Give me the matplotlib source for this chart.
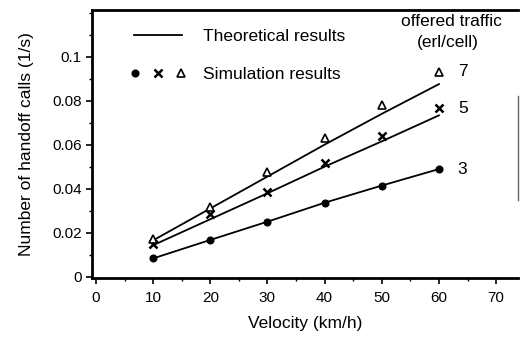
import matplotlib
matplotlib.use('Agg')
import matplotlib.pyplot as plt
from matplotlib.lines import Line2D
from matplotlib.legend_handler import HandlerTuple
from matplotlib.ticker import MultipleLocator

# data dibaca langsung dari gambar (perkiraan)
kecepatan = [10, 20, 30, 40, 50, 60]

# hasil simulasi tiap offered traffic (erl/cell)
sim_3 = [0.0083, 0.0167, 0.0250, 0.0336, 0.0414, 0.0489]
sim_5 = [0.0150, 0.0285, 0.0387, 0.0517, 0.0640, 0.0765]
sim_7 = [0.0172, 0.0318, 0.0477, 0.0632, 0.0780, 0.0932]

# hasil teori (garis)
teori_3 = [0.0083, 0.0167, 0.0250, 0.0336, 0.0414, 0.0489]
teori_5 = [0.0143, 0.0261, 0.0379, 0.0500, 0.0615, 0.0733]
teori_7 = [0.0165, 0.0310, 0.0455, 0.0600, 0.0740, 0.0875]

label_trafik = ['3', '5', '7']

xtick_pos = [0, 10, 20, 30, 40, 50, 60, 70]
ytick_pos = [0, 0.02, 0.04, 0.06, 0.08, 0.1]
ytick_label = ['0', '0.02', '0.04', '0.06', '0.08', '0.1']

plt.rcParams['font.family'] = ['Liberation Sans', 'DejaVu Sans']

UKURAN_FONT = 12.5


def gambar_grafik():
    fig = plt.figure(figsize=(5.21, 3.38), dpi=100)
    ax = fig.add_axes([0.177, 0.1775, 0.818, 0.793])

    # style marker buat tiap seri
    gaya_marker = [
        dict(marker='o', ms=4.8, mfc='k', mec='k'),
        dict(marker='x', ms=5.5, mew=1.8, mec='k'),
        dict(marker='^', ms=5.5, mew=1.2, mfc='white', mec='k'),
    ]
    semua_sim = [sim_3, sim_5, sim_7]
    semua_teori = [teori_3, teori_5, teori_7]

    for teori, sim, gaya, lbl in zip(semua_teori, semua_sim, gaya_marker, label_trafik):
        ax.plot(kecepatan, teori, color='k', lw=1.3, zorder=2)
        ax.plot(kecepatan, sim, ls='none', zorder=3, **gaya)
        # angka offered traffic di kanan
        ax.text(kecepatan[-1] + 3.3, sim[-1], lbl, fontsize=UKURAN_FONT,
                va='center', ha='left')

    ax.text(62.2, 0.1159, 'offered traffic', fontsize=UKURAN_FONT, ha='center', va='center')
    ax.text(61.5, 0.1064, '(erl/cell)', fontsize=UKURAN_FONT, ha='center', va='center')

    # legend manual pake handle tuple
    h_garis = Line2D([], [], color='k', lw=1.3)
    h_marker = tuple(Line2D([], [], ls='none', **g) for g in gaya_marker)
    ax.legend([h_garis, h_marker], ['Theoretical results', 'Simulation results'],
              handler_map={tuple: HandlerTuple(ndivide=None, pad=1.23)},
              loc='upper left', bbox_to_anchor=(0.098, 0.931), frameon=False,
              borderpad=0, borderaxespad=0, handlelength=2.76,
              handletextpad=1.2, labelspacing=1.33, fontsize=UKURAN_FONT)

    ax.set_xlim(-0.65, 73.9)
    ax.set_ylim(-0.0006, 0.1212)
    ax.set_xticks(xtick_pos)
    ax.set_yticks(ytick_pos)
    ax.set_yticklabels(ytick_label)
    ax.xaxis.set_minor_locator(MultipleLocator(5))
    ax.yaxis.set_minor_locator(MultipleLocator(0.01))
    ax.tick_params(which='major', direction='out', length=4.5, width=1.2,
                   labelsize=11, pad=3)
    ax.tick_params(axis='x', which='major', pad=5)
    ax.tick_params(which='minor', direction='out', length=2.5, width=1.0)
    ax.tick_params(axis='x', which='both', top=False)
    ax.tick_params(axis='y', which='both', right=False)

    for s in ['left', 'bottom', 'top']:
        ax.spines[s].set_linewidth(2)
    # garis kanan cuma keliatan sebagian di gambar asli
    ax.spines['right'].set_bounds(0.035, 0.082)
    ax.spines['right'].set_linewidth(1)
    ax.spines['right'].set_color('0.4')

    ax.set_xlabel('Velocity (km/h)', fontsize=UKURAN_FONT, labelpad=8)
    ax.set_ylabel('Number of handoff calls (1/s)', fontsize=UKURAN_FONT, labelpad=13)

    fig.savefig('out.png', dpi=100)
    plt.close(fig)


if __name__ == '__main__':
    gambar_grafik()
